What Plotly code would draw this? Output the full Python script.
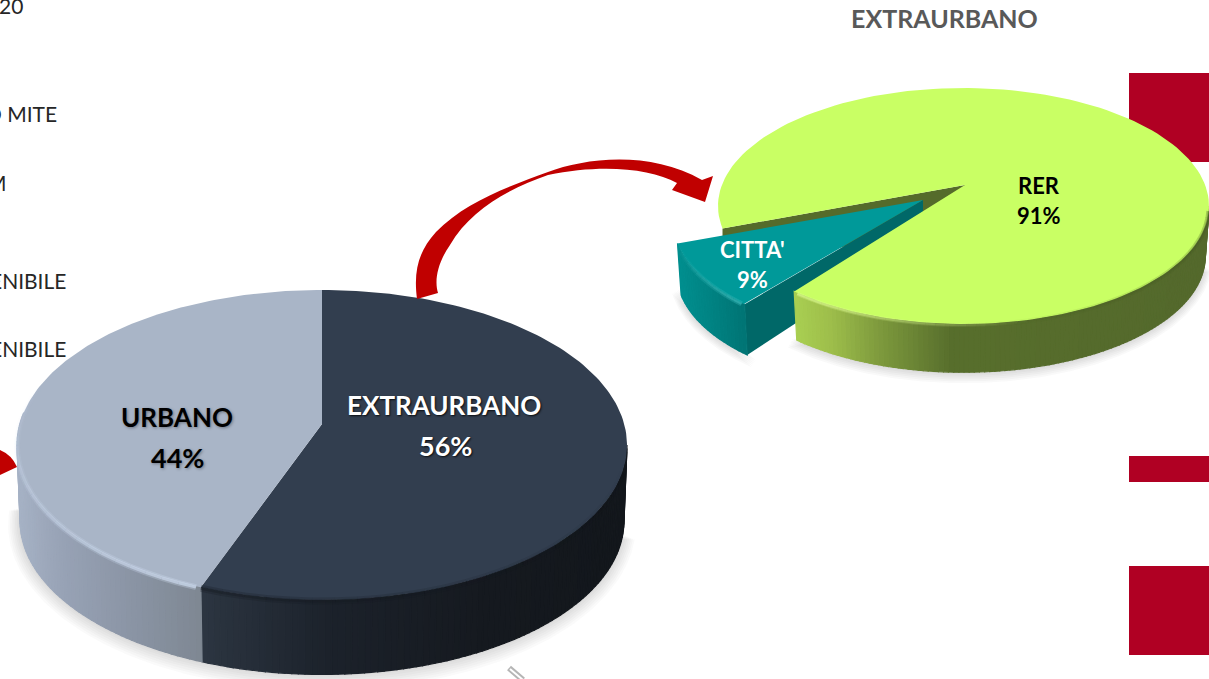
import numpy as np
import plotly.graph_objects as go

# --- data ---
main_labels = ["EXTRAURBANO", "URBANO"]
main_values = [56, 44]
sub_labels = ["RER", "CITTA'"]
sub_values = [91, 9]
sub_title = "EXTRAURBANO"
side_texts = ["20", "O MITE", "M", "ENIBILE", "ENIBILE"]

W, H = 1209, 679
fig = go.Figure()


def hexrgb(c):
    c = c.lstrip("#")
    return np.array([int(c[i:i + 2], 16) for i in (0, 2, 4)], float)


def ramp(stops, x):
    xs = [s[0] for s in stops]
    cols = np.array([hexrgb(s[1]) for s in stops])
    return "rgb(%d,%d,%d)" % tuple(np.interp(x, xs, cols[:, i]) for i in range(3))


def poly(xs, ys, color, line=None, lw=1):
    fig.add_trace(go.Scatter(x=list(xs), y=list(ys), mode="lines", fill="toself",
                             fillcolor=color, hoverinfo="skip", showlegend=False,
                             line=dict(color=line or color, width=lw if line else 0)))


def stroke(xs, ys, color, width):
    fig.add_trace(go.Scatter(x=list(xs), y=list(ys), mode="lines", hoverinfo="skip",
                             showlegend=False, line=dict(color=color, width=width)))


class Disc:
    def __init__(s, cx, cy, rx, ry, ax, ay, depth, shrink=0.985):
        s.cx, s.cy, s.rx, s.ry, s.ax, s.ay, s.d, s.k = cx, cy, rx, ry, ax, ay, depth, shrink

    def top(s, t):
        t = np.radians(t)
        return s.cx + s.rx * np.sin(t), s.cy - s.ry * np.cos(t)

    def bot(s, t):
        t = np.radians(t)
        return s.cx + s.k * s.rx * np.sin(t), s.cy + s.d - s.ry * s.k * np.cos(t)

    def wedge(s, a, b, color):
        t = np.linspace(a, b, 160)
        x, y = s.top(t)
        poly(np.r_[s.ax, x, s.ax], np.r_[s.ay, y, s.ay], color)

    def side(s, a, b, stops, n=50):
        e = np.linspace(a, b, n + 1)
        for i in range(n):
            t = np.linspace(e[i], e[i + 1], 4)
            x1, y1 = s.top(t)
            x2, y2 = s.bot(t[::-1])
            col = ramp(stops, x1.mean())
            poly(np.r_[x1, x2, x1[0]], np.r_[y1, y2, y1[0]], col, line=col, lw=1.2)

    def rim(s, a, b, color, widths=(6, 3), alphas=(0.25, 0.55), n=24):
        """Soft edge highlight along the front arc, fading from angle a to angle b."""
        e = np.linspace(a, b, n + 1)
        for i in range(n):
            t = np.linspace(e[i], e[i + 1], 6)
            x, y = s.top(t)
            f = 1 - i / n
            for w, al in zip(widths, alphas):
                stroke(x, y + 1, "rgba(%s,%.3f)" % (color, al * f), w)

    def shadow(s, a=0.028, layers=7, grow=14, down=8, arc=(0, 360)):
        t = np.linspace(arc[0], arc[1], 150)
        for i in range(layers):
            g = grow * (layers - i) / layers
            x, y = s.bot(t)
            x = s.cx + (x - s.cx) * (1 + g / s.rx)
            y = (s.cy + s.d) + (y - s.cy - s.d) * (1 + g / s.ry) + down * (layers - i) / layers * 0.5
            poly(x, y, "rgba(60,60,60,%s)" % a)


# red blocks behind the charts
shapes = []
for y0, y1 in [(73, 162), (456, 482), (566, 655)]:
    shapes.append(dict(type="rect", xref="x", yref="y", x0=1129, x1=1209, y0=y0, y1=y1,
                       fillcolor="#b00023", line=dict(width=0), layer="below"))

# ---- main pie ----
D = Disc(322, 445, 305, 155, 322, 424, 76, 0.99)
D.shadow(arc=(95, 275), grow=12)
split = main_values[0] / sum(main_values) * 360 + 1.8  # perspective of the drawn disc
D.side(90, split, [(205, "#2c3541"), (330, "#1c222b"), (480, "#161a20"), (630, "#13171c")], 90)
D.side(split, 282, [(18, "#a6b2c5"), (60, "#98a3b6"), (130, "#8b95a5"), (205, "#7e8792")], 60)
D.wedge(0, split, "#323e4f")
D.wedge(split, 360, "#a9b5c7")
D.rim(split + 1, 292, "208,222,242", (6, 3), (0.3, 0.65))
D.rim(split, 100, "20,25,32", (7, 3), (0.25, 0.35))

# ---- secondary pie ----
P = Disc(963.5, 206, 245.5, 118, 965, 185, 50, 0.985)
rot = 259
span = sub_values[0] / sum(sub_values) * 360
green_end = rot + span - 360 - 3  # perspective of the drawn disc
P.shadow(a=0.03, layers=6, grow=7, down=8, arc=(95, 225))

# back cut face of the big slice
bx, by = P.top(rot)
poly([bx, P.ax, P.ax, bx, bx], [by, P.ay, P.ay + 30, by + 50, by], "#556b2b")

# exploded slice
OX, OY = -45, 15
C = Disc(963.5 + OX, 206 + OY, 245.5, 118, 923, 200, 52, 0.985)
C.shadow(a=0.03, layers=6, grow=7, down=6, arc=(222, 262))
cut = green_end + 1.5
fx, fy = C.top(cut)
gx, gy = C.bot(cut)
poly([fx, C.ax, C.ax, gx, fx], [fy, C.ay, C.ay + 40, gy, fy], "#006868")
C.side(cut, rot, [(675, "#009090"), (705, "#008585"), (745, "#007474")], 24)
C.wedge(cut, rot, "#009999")
C.rim(cut + 1, rot - 1, "60,190,190", (5, 2), (0.35, 0.55), n=12)

# big slice sides and top
P.side(90, green_end, [(795, "#a9cf52"), (830, "#9ebe4b"), (880, "#7d993d"), (950, "#586f2d"), (1210, "#54692c")], 110)
P.wedge(rot, green_end + 360, "#c9ff64")
P.rim(green_end - 1, 165, "225,255,150", (4, 2), (0.3, 0.5))
P.rim(92, 175, "70,90,35", (5, 2), (0.3, 0.4))

# ---- arrows ----
arrow_big = ("M 417 299 C 413 268 420 250 436 232 C 465 202 510 186 548 172 "
             "C 585 158 650 150 702 180 L 713 176 L 705 202 L 672 190 L 677 183 "
             "C 650 168 600 164 548 175 C 510 188 470 210 450 245 C 438 262 434 280 438 293 Z")
shapes.append(dict(type="path", xref="x", yref="y", path=arrow_big,
                   fillcolor="#c00000", line=dict(width=0), layer="above"))
shapes.append(dict(type="path", xref="x", yref="y", path="M 0 450 Q 12 455 17 467 L 0 475 Z",
                   fillcolor="#c00000", line=dict(width=0), layer="above"))
# clipped grey mark at the bottom edge
shapes.append(dict(type="line", xref="x", yref="y", x0=509, y0=668, x1=523, y1=680,
                   line=dict(color="#b5b5b5", width=6), layer="above"))
shapes.append(dict(type="line", xref="x", yref="y", x0=510, y0=669, x1=523, y1=680,
                   line=dict(color="#ffffff", width=2), layer="above"))

# ---- texts ----
FONT = "Lato, Carlito, Calibri, sans-serif"
ann = []


def txt(x, y, s, size, color, bold=True, anchor="center", shadow=None):
    f = dict(family=FONT, size=size, color=color)
    if shadow:
        f["shadow"] = shadow
    ann.append(dict(xref="x", yref="y", x=x, y=y, text=("<b>%s</b>" % s) if bold else s,
                    showarrow=False, xanchor=anchor, yanchor="middle", font=f))


txt(944, 18, sub_title, 25, "#595959")
dark_sh = "1px 1px 3px rgba(0,0,0,0.35)"
light_sh = "1px 1px 2px rgba(0,0,0,0.8)"
txt(444, 405, main_labels[0], 26, "#ffffff", shadow=light_sh)
txt(445, 445, "%d%%" % main_values[0], 27, "#ffffff", shadow=light_sh)
txt(177, 417, main_labels[1], 26, "#000000", shadow=dark_sh)
txt(177, 457, "%d%%" % main_values[1], 27, "#000000", shadow=dark_sh)
txt(1039, 185, sub_labels[0], 22, "#000000")
txt(1039, 215, "%d%%" % sub_values[0], 22, "#000000")
txt(752, 249, sub_labels[1], 22, "#ffffff")
txt(752, 279, "%d%%" % sub_values[1], 22, "#ffffff")
for s, x, y in zip(side_texts, [25, 59, 9, 68, 68], [5, 113, 182, 280, 348]):
    txt(x, y, s, 21, "#262626", bold=False, anchor="right")

fig.update_layout(
    width=W, height=H, margin=dict(l=0, r=0, t=0, b=0), autosize=False,
    paper_bgcolor="white", plot_bgcolor="white", showlegend=False,
    xaxis=dict(range=[0, W], visible=False, fixedrange=True),
    yaxis=dict(range=[H, 0], visible=False, fixedrange=True),
    shapes=shapes, annotations=ann,
)
fig.write_html("out.html", post_script="document.body.style.margin='0';document.body.style.overflow='hidden';",
               config=dict(displayModeBar=False))
